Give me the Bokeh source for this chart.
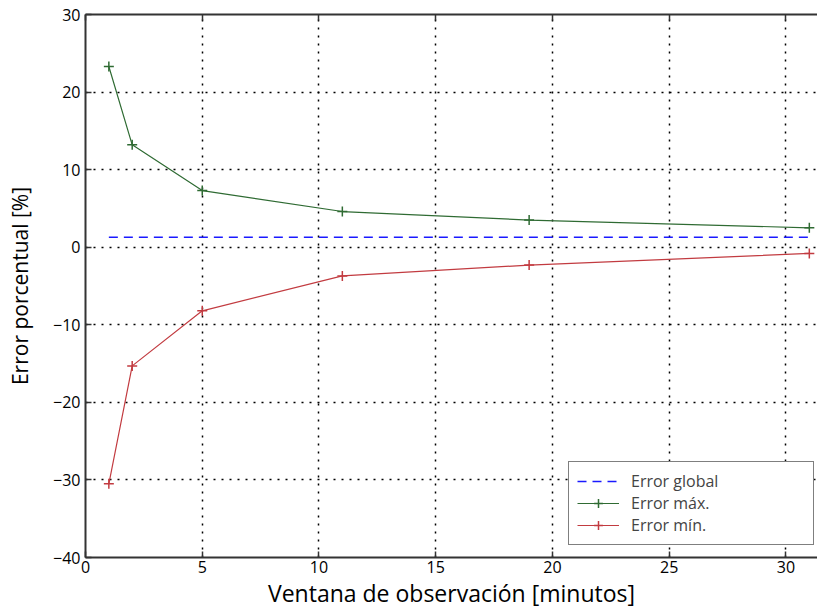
from bokeh.plotting import figure
from bokeh.models import LinearAxis, Range1d, Legend, LegendItem, FixedTicker
from bokeh.embed import file_html
from bokeh.resources import INLINE

# Data
ventana = [1, 2, 5, 11, 19, 31]
error_max = [23.3, 13.2, 7.3, 4.6, 3.5, 2.5]
error_min = [-30.5, -15.3, -8.2, -3.7, -2.3, -0.8]
global_x = [1, 31]
global_y = [1.3, 1.3]
x_ticks = [0, 5, 10, 15, 20, 25, 30]
y_ticks = [-40, -30, -20, -10, 0, 10, 20, 30]

FONT = "Open Sans"
GREEN = "#2f6b33"
RED = "#c23b40"
BLUE = "#1a1aff"

p = figure(width=817, height=611, output_backend="svg", toolbar_location=None,
           x_range=Range1d(0, 31.35), y_range=Range1d(-40, 30),
           min_border_left=85, min_border_right=0, min_border_top=14, min_border_bottom=0)
p.outline_line_color = None
p.background_fill_color = "white"
p.border_fill_color = "white"

r_glob = p.line(global_x, global_y, line_color=BLUE, line_width=1.5, line_dash="9 6")
r_max_l = p.line(ventana, error_max, line_color=GREEN, line_width=1.2)
r_max_s = p.scatter(ventana, error_max, marker="cross", size=10, line_color=GREEN, line_width=1.5)
r_min_l = p.line(ventana, error_min, line_color=RED, line_width=1.2)
r_min_s = p.scatter(ventana, error_min, marker="cross", size=10, line_color=RED, line_width=1.5)

for g in (p.xgrid, p.ygrid):
    g.grid_line_color = "black"
    g.grid_line_dash = "2 6"
    g.grid_line_width = 1.5
p.xgrid.ticker = FixedTicker(ticks=x_ticks)
p.ygrid.ticker = FixedTicker(ticks=y_ticks)

for ax in (p.xaxis[0], p.yaxis[0]):
    ax.axis_line_width = 2
    ax.axis_line_color = "#333333"
    ax.major_tick_in = 6
    ax.major_tick_out = 0
    ax.major_tick_line_color = "#333333"
    ax.major_tick_line_width = 1.5
    ax.minor_tick_line_color = None
    ax.major_label_text_font = FONT
    ax.major_label_text_font_size = "16px"
    ax.major_label_text_color = "black"
    ax.axis_label_text_font = FONT
    ax.axis_label_text_font_size = "23px"
    ax.axis_label_text_font_style = "normal"
    ax.axis_label_text_color = "black"

p.xaxis[0].ticker = FixedTicker(ticks=x_ticks)
p.yaxis[0].ticker = FixedTicker(ticks=y_ticks)
p.xaxis[0].axis_label = "Ventana de observación [minutos]"
p.yaxis[0].axis_label = "Error porcentual [%]"
p.yaxis[0].axis_label_text_font_size = "21px"
p.xaxis[0].major_label_standoff = 3
p.yaxis[0].major_label_standoff = 5
p.xaxis[0].axis_label_standoff = 1
p.yaxis[0].axis_label_standoff = 16

top = LinearAxis(ticker=FixedTicker(ticks=x_ticks),
                 major_label_overrides={t: "" for t in x_ticks},
                 axis_line_width=2, axis_line_color="#333333",
                 major_tick_in=6, major_tick_out=0, major_tick_line_width=1.5,
                 major_tick_line_color="#333333", minor_tick_line_color=None,
                 major_label_standoff=0)
p.add_layout(top, "above")

legend = Legend(items=[
    LegendItem(label="Error global", renderers=[r_glob]),
    LegendItem(label="Error máx.", renderers=[r_max_l, r_max_s]),
    LegendItem(label="Error mín.", renderers=[r_min_l, r_min_s]),
], location=(483, 12))
legend.label_text_font = FONT
legend.label_text_font_size = "16px"
legend.border_line_color = "black"
legend.border_line_width = 1
legend.background_fill_alpha = 1
legend.glyph_width = 42
legend.glyph_height = 22
legend.label_height = 22
legend.label_width = 174
legend.spacing = 0
legend.padding = 8
legend.margin = 0
legend.label_standoff = 12
p.add_layout(legend)

open("out.html", "w").write(file_html(p, INLINE))
